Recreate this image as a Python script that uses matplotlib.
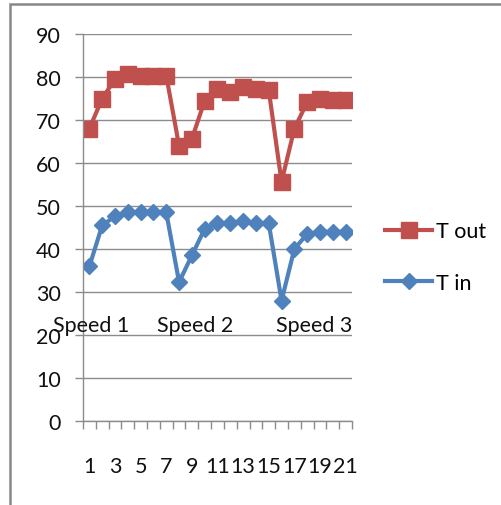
import numpy as np
import matplotlib.pyplot as plt
from matplotlib.patches import Rectangle

plt.rcParams['font.family'] = ['Lato', 'DejaVu Sans']

samples = list(range(1, 22))
t_out = [68, 75, 79.5, 80.7, 80.3, 80.3, 80.3, 64, 65.6, 74.5, 77.2,
         76.5, 77.7, 77.2, 77, 55.6, 68, 74.1, 75, 74.7, 74.7]
t_in = [36, 45.5, 47.6, 48.6, 48.5, 48.5, 48.5, 32.3, 38.5, 44.7, 46,
        46, 46.5, 46, 46, 28, 40, 43.5, 44, 44, 44]
speed_labels = ['Speed 1', 'Speed 2', 'Speed 3']
speed_x = [-1.85, 6.28, 15.57]

red = '#C0504D'
blue = '#4F81BD'
grid = '#8C8C8C'
txt = '#111111'
fs = 15.5

W, H = 502, 506
fig = plt.figure(figsize=(W / 100, H / 100), dpi=100)
ax = fig.add_axes([83 / W, 1 - 422 / H, (352 - 83) / W, (422 - 35) / H])

# outer chart frame (only top and left edges show)
fig.patches.append(Rectangle((10 / W, -0.1), 1.2, 1 - 5 / H + 0.1,
                             transform=fig.transFigure, fill=False,
                             edgecolor='#888888', lw=1.8))

ax.plot(samples, t_out, color=red, lw=3, marker='s', ms=11.5, label='T out')
ax.plot(samples, t_in, color=blue, lw=3, marker='D', ms=8.5, label='T in')

ax.set_xlim(0.5, 21.5)
ax.set_ylim(0, 90)
ax.set_yticks(range(0, 91, 10))
ax.yaxis.grid(True, color=grid, lw=1)
ax.set_axisbelow(True)

ax.set_xticks(range(1, 22, 2))
ax.set_xticks(np.arange(0.5, 22, 1), minor=True)
ax.tick_params(axis='x', which='major', length=0, pad=25, labelsize=fs,
               colors=txt)
ax.tick_params(axis='x', which='minor', length=6, color=grid, width=1)
ax.tick_params(axis='y', length=6, color=grid, width=1, pad=10,
               labelsize=fs, labelcolor=txt)

for s in ['top', 'right']:
    ax.spines[s].set_visible(False)
for s in ['left', 'bottom']:
    ax.spines[s].set_color(grid)
    ax.spines[s].set_linewidth(1)

for lab, x in zip(speed_labels, speed_x):
    ax.text(x, 22.3, lab, ha='left', va='center', fontsize=fs,
            color=txt, clip_on=False)

fig.legend(loc='center left', bbox_to_anchor=(385 / W, 1 - 258 / H),
           frameon=False, fontsize=fs, handlelength=2.2, handletextpad=0.15,
           labelspacing=1.45, borderpad=0, borderaxespad=0)

fig.savefig('out.png', dpi=100)
